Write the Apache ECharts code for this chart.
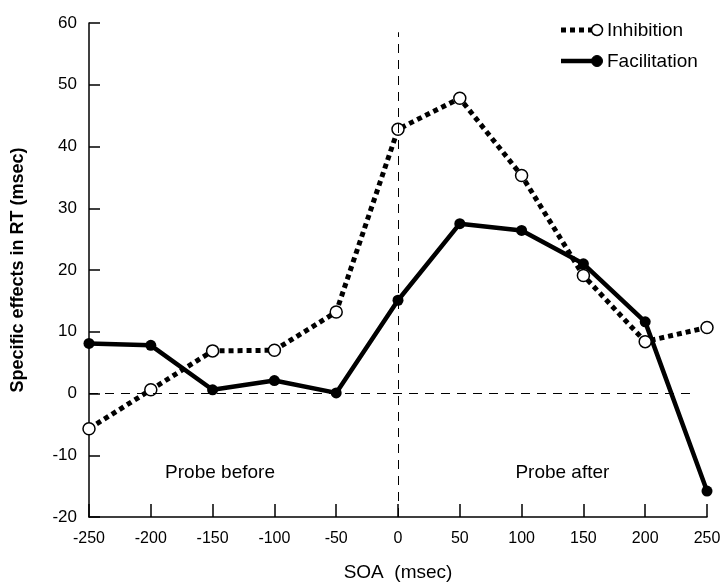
<!DOCTYPE html>
<html>
<head>
<meta charset="utf-8">
<script src="https://cdn.jsdelivr.net/npm/echarts@6/dist/echarts.min.js"></script>
<style>
  html, body { margin: 0; padding: 0; background: #fff; }
  #chart { width: 726px; height: 585px; }
</style>
</head>
<body>
<div id="chart"></div>
<script>
// SOA values (msec)
const soa = [-250, -200, -150, -100, -50, 0, 50, 100, 150, 200, 250];
const inhibition = [-5.7, 0.6, 6.9, 7.0, 13.2, 42.8, 47.8, 35.3, 19.1, 8.4, 10.7];
const facilitation = [8.1, 7.8, 0.6, 2.1, 0.1, 15.1, 27.5, 26.4, 21.0, 11.6, -15.8];

const font = 'Liberation Sans, Arial, sans-serif';

const chart = echarts.init(document.getElementById('chart'));

const pairs = (ys) => soa.map((x, i) => [x, ys[i]]);

chart.setOption({
  animation: false,
  grid: { left: 89, right: 19, top: 23, bottom: 68, containLabel: false, outerBoundsMode: 'none' },
  xAxis: {
    type: 'value',
    min: -250, max: 250, interval: 50,
    name: 'SOA  (msec)', nameLocation: 'middle', nameGap: 46,
    nameTextStyle: { fontFamily: font, fontSize: 19, color: '#000' },
    axisLine: { onZero: false, lineStyle: { color: '#000', width: 1.5 } },
    axisTick: { inside: true, length: 13, lineStyle: { color: '#000', width: 1.5 } },
    axisLabel: { fontFamily: font, fontSize: 16, color: '#000', margin: 14 },
    splitLine: { show: false }
  },
  yAxis: {
    type: 'value',
    min: -20, max: 60, interval: 10,
    name: 'Specific effects in RT (msec)', nameLocation: 'middle', nameGap: 62,
    nameTextStyle: { fontFamily: font, fontSize: 18, fontWeight: 'bold', color: '#000' },
    axisLine: { show: true, onZero: false, lineStyle: { color: '#000', width: 1.5 } },
    axisTick: { show: true, inside: true, length: 11, lineStyle: { color: '#000', width: 1.5 } },
    axisLabel: { fontFamily: font, fontSize: 17, color: '#000', margin: 12 },
    splitLine: { show: false }
  },
  series: [
    {
      name: 'Facilitation',
      type: 'line',
      data: pairs(facilitation),
      symbol: 'circle', symbolSize: 11,
      itemStyle: { color: '#000' },
      lineStyle: { color: '#000', width: 4.5 },
      z: 3,
      markLine: {
        silent: true, symbol: 'none',
        lineStyle: { color: '#000', width: 1, type: [9, 7] },
        label: { show: false },
        data: [
          [{ coord: [0, -20] }, { coord: [0, 58.5] }],
          [{ coord: [-250, 0] }, { coord: [240, 0] }]
        ]
      },
      markPoint: {
        symbol: 'circle', symbolSize: 0,
        label: { show: true, fontFamily: font, fontSize: 19, color: '#000', position: 'inside' },
        data: [
          { coord: [-144, -12.9], value: 'Probe before' },
          { coord: [133, -12.9], value: 'Probe after' }
        ]
      }
    },
    {
      name: 'Inhibition',
      type: 'line',
      data: pairs(inhibition),
      symbol: 'circle', symbolSize: 12,
      itemStyle: { color: '#fff', borderColor: '#000', borderWidth: 1.5 },
      lineStyle: { color: '#000', width: 5, type: [5, 4], cap: 'butt' },
      z: 4
    }
  ],
  graphic: [
    { type: 'line', shape: { x1: 561, y1: 30, x2: 596, y2: 30 },
      style: { stroke: '#000', lineWidth: 5, lineDash: [5, 4] } },
    { type: 'circle', shape: { cx: 597, cy: 30, r: 5.5 },
      style: { fill: '#fff', stroke: '#000', lineWidth: 1.5 } },
    { type: 'text', x: 607, y: 31,
      style: { text: 'Inhibition', font: '19px ' + font, fill: '#000', verticalAlign: 'middle' } },
    { type: 'line', shape: { x1: 561, y1: 61, x2: 596, y2: 61 },
      style: { stroke: '#000', lineWidth: 4.5 } },
    { type: 'circle', shape: { cx: 597, cy: 61, r: 5.5 },
      style: { fill: '#000', stroke: '#000', lineWidth: 1 } },
    { type: 'text', x: 607, y: 62,
      style: { text: 'Facilitation', font: '19px ' + font, fill: '#000', verticalAlign: 'middle' } }
  ]
});
</script>
</body>
</html>
